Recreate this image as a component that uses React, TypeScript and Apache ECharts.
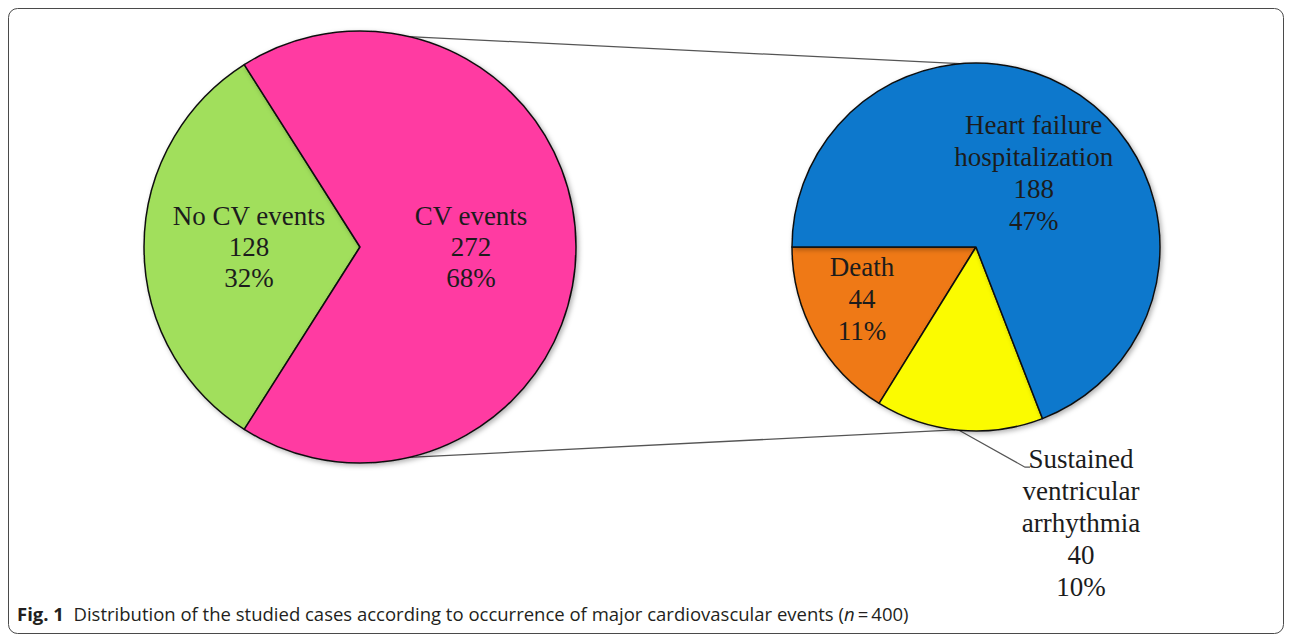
import React, { useEffect, useRef } from "react";
import * as echarts from "echarts";

// ---- data ----
const totalCases = 400;
const mainCategories = ["No CV events", "CV events"];
const mainValues = [128, 272];
const mainColors = ["#a1df5b", "#ff3aa2"];

const subCategories = ["Death", "Sustained\nventricular\narrhythmia", "Heart failure\nhospitalization"];
const subValues = [44, 40, 188];
const subColors = ["#ef7912", "#fbfb06", "#0b78cc"];

const captionBold = "Fig. 1";
const captionText = "Distribution of the studied cases according to occurrence of major cardiovascular events (";
const captionTail = "\u2009=\u2009400)";

// ---- layout ----
const leftCenter = [360, 247];
const leftRadius = 216;
const rightCenter = [976, 247];
const rightRadius = 184;

const labelFont = {
  fontFamily: "'Liberation Serif', 'Times New Roman', serif",
  fontSize: 27,
  lineHeight: 31,
  color: "#1c1c1c",
};

const pct = (v: number) => `${Math.round((v / totalCases) * 100)}%`;

function pointAt(c: number[], r: number, deg: number) {
  const a = (deg * Math.PI) / 180;
  return [c[0] + r * Math.cos(a), c[1] - r * Math.sin(a)];
}

export default function App() {
  const ref = useRef<HTMLDivElement>(null);
  useEffect(() => {
    if (!ref.current) return;
    const chart = echarts.init(ref.current, undefined, { renderer: "svg" });
    const mainSum = mainValues.reduce((a, b) => a + b, 0);
    const leftStart = 180 - (mainValues[0] / mainSum) * 180;

    const itemBase = {
      borderColor: "#111",
      borderWidth: 1.5,
      shadowBlur: 5,
      shadowOffsetX: 2,
      shadowOffsetY: 2,
      shadowColor: "rgba(0,0,0,0.3)",
    };

    const subLabelOffsets: any[] = [[-31, 6], [0, 0], [4, 4]];

    const topL = pointAt(leftCenter, leftRadius, 77);
    const topR = pointAt(rightCenter, rightRadius, 95);
    const botL = pointAt(leftCenter, leftRadius, -77);
    const botR = pointAt(rightCenter, rightRadius, -96.5);

    const capFont = "'Open Sans', sans-serif";

    chart.setOption({
      animation: false,
      backgroundColor: "#ffffff",
      graphic: [
        {
          type: "rect",
          shape: { x: 8.5, y: 8.5, width: 1275, height: 625, r: 9 },
          style: { fill: "none", stroke: "#4a4a4a", lineWidth: 1 },
          silent: true,
          z: -10,
        },
        {
          type: "line",
          shape: { x1: topL[0], y1: topL[1], x2: topR[0], y2: topR[1] },
          style: { stroke: "#555", lineWidth: 1.3 },
          z: -5,
        },
        {
          type: "line",
          shape: { x1: botL[0], y1: botL[1], x2: botR[0], y2: botR[1] },
          style: { stroke: "#555", lineWidth: 1.3 },
          z: -5,
        },
        {
          type: "text",
          left: 17,
          top: 604,
          style: {
            text: `{b|${captionBold}}  ${captionText}{i|n}${captionTail}`,
            fontFamily: capFont,
            fontSize: 18.5,
            fill: "#231f20",
            rich: {
              b: { fontWeight: "bold", fontFamily: capFont, fontSize: 18.5, fill: "#231f20" },
              i: { fontStyle: "italic", fontFamily: capFont, fontSize: 18.5, fill: "#231f20" },
            },
          },
        },
      ],
      series: [
        {
          type: "pie",
          center: leftCenter,
          radius: leftRadius,
          startAngle: leftStart,
          clockwise: false,
          data: mainCategories.map((name, i) => ({
            name,
            value: mainValues[i],
            itemStyle: { ...itemBase, color: mainColors[i] },
          })),
          label: {
            show: true,
            position: "inside",
            formatter: (p: any) => `${p.name}\n${p.value}\n${pct(p.value)}`,
            ...labelFont,
          },
          labelLine: { show: false },
          emphasis: { disabled: true },
        },
        {
          type: "pie",
          center: rightCenter,
          radius: rightRadius,
          startAngle: 180,
          clockwise: false,
          data: subCategories.map((name, i) => ({
            name,
            value: subValues[i],
            itemStyle: { ...itemBase, color: subColors[i] },
            label:
              i === 1
                ? { position: "outside" }
                : { position: "inside", offset: subLabelOffsets[i] },
            labelLine: { show: i === 1, lineStyle: { color: "#555", width: 1.2 } },
          })),
          label: {
            show: true,
            formatter: (p: any) => `${p.name}\n${p.value}\n${pct(p.value)}`,
            align: "center",
            ...labelFont,
            lineHeight: 32,
          },
          labelLayout: (params: any) => {
            if (params.dataIndex !== 1) return {};
            const pts = params.labelLinePoints;
            const s = pts && pts[0] ? pts[0] : pointAt(rightCenter, rightRadius, 264.6);
            return {
              x: s[0] + 122,
              y: s[1] + 13,
              align: "center",
              verticalAlign: "top",
              labelLinePoints: [
                [s[0], s[1]],
                [s[0] + 66, s[1] + 37],
                [s[0] + 71, s[1] + 37],
              ],
            };
          },
          emphasis: { disabled: true },
        },
      ],
    });
    return () => chart.dispose();
  }, []);
  return (
    <div
      ref={ref}
      style={{ position: "fixed", left: 0, top: 0, width: 1292, height: 637 }}
    />
  );
}
